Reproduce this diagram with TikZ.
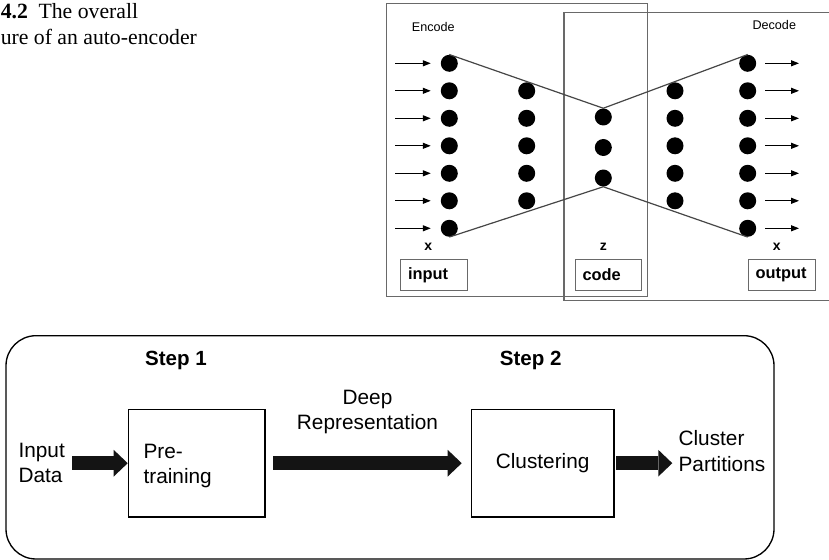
\documentclass[tikz,border=0pt]{standalone}
\usepackage{fontspec}
\setmainfont{Liberation Serif}
\newfontfamily\hsans{Liberation Sans}
\usetikzlibrary{arrows.meta,calc}
\definecolor{framegray}{RGB}{105,105,105}
\definecolor{linegray}{RGB}{70,70,70}
\definecolor{blkcol}{RGB}{20,20,20}
\begin{document}
\begin{tikzpicture}[x=0.75pt,y=-0.75pt,
  dot/.style={circle,fill=black,inner sep=0pt,minimum size=12.75pt},
  frame/.style={draw=framegray,line width=1pt},
  wire/.style={draw=linegray,line width=0.9pt},
  inarrow/.style={draw=black,line width=0.9pt,-{Triangle[length=6pt,width=4.5pt]}},
  lbox/.style={draw=framegray,line width=0.8pt,minimum height=23.5pt,text width=39pt,inner xsep=5.5pt,align=left,font=\hsans\bfseries\fontsize{12.3}{14}\selectfont},
  xl/.style={inner sep=0pt,font=\hsans\bfseries\fontsize{10.5}{12}\selectfont},
  hl/.style={inner sep=0pt,font=\hsans\fontsize{9.45}{11}\selectfont},
  captxt/.style={inner sep=0pt,font=\fontsize{16.3}{19}\selectfont},
  btxt/.style={inner sep=0pt,align=left,font=\hsans\fontsize{15.6}{19}\selectfont},
  bst/.style={inner sep=0pt,font=\hsans\bfseries\fontsize{15.4}{19}\selectfont},
  pbox/.style={draw=black,line width=0.9pt,inner sep=0pt,minimum height=80.8pt,font=\hsans\fontsize{15.6}{19}\selectfont},
  blk/.style={draw=blkcol,line width=10.5pt,-{Triangle[length=10.5pt,width=20pt,line width=0pt]}}
]
\useasboundingbox (0,0) rectangle (829,560);

% caption
\node[captxt,anchor=base east] (fnum) at (28.3,19) {\bfseries 4.2};
\node[captxt,anchor=base west] (cap1) at (38.3,19) {The overall};
\node[captxt,anchor=base west] (cap2) at (0.5,45) {ure of an auto-encoder};

% auto-encoder frames
\draw[frame] (386.7,3.3) rectangle (647.3,296.7);
\draw[frame] (840,12.7) -- (564,12.7) -- (564,300.7) -- (840,300.7);

\node[hl] (enc) at (433.3,26.7) {Encode};
\node[hl] (dec) at (774.3,25) {Decode};

% dots
\foreach \k in {0,...,6} {
  \node[dot] (a\k) at (449.3,{63.3+27.5*\k}) {};
  \node[dot] (e\k) at (747.7,{63.3+27.5*\k}) {};
}
\foreach \k in {1,...,5} {
  \node[dot] (b\k) at (526.7,{63.3+27.5*\k}) {};
  \node[dot] (d\k) at (675,{63.3+27.5*\k}) {};
}
\node[dot] (c1) at (603.3,117) {};
\node[dot] (c2) at (603.3,147.5) {};
\node[dot] (c3) at (603.3,178) {};

\draw[wire] (a0.north) -- (c1.north) -- (e0.north);
\draw[wire] (a6.south) -- (c3.south) -- (e6.south);

\foreach \k in {0,...,6} {
  \coordinate (la\k) at (395,{63.3+27.5*\k});
  \coordinate (ra\k) at (799,{63.3+27.5*\k});
  \draw[inarrow,shorten >=7.3pt] (la\k) -- (a\k);
  \draw[inarrow,shorten <=6.6pt] (e\k) -- (ra\k);
}

\node[xl] (xin) at (428.3,246.7) {x};
\node[xl] (zc) at (603.3,246.7) {z};
\node[xl] (xout) at (776.7,246.7) {x};

\node[lbox] (inp) at (434,275) {input};
\node[lbox] (cod) at (608.5,275) {code};
\node[lbox] (outp) at (781.7,275) {output};

% pipeline
\draw[line width=1pt,rounded corners=22.5pt] (6,335.7) rectangle (774,559);

\node[bst] (s1) at (176,360) {Step 1};
\node[bst] (s2) at (530.7,360) {Step 2};

\node[pbox,minimum width=102.5pt] (pre) at (196.65,463.2) {};
\node[btxt,anchor=west] (pretxt) at (143.3,466) {Pre-\\training};
\node[pbox,minimum width=107pt] (clus) at (542.65,463.2) {Clustering};

\node[btxt,align=center] (deep) at (367.5,411.7) {Deep\\Representation};
\node[btxt,anchor=west] (indata) at (18.3,463.2) {Input\\Data};
\node[btxt,anchor=west] (cp) at (678.3,451) {Cluster\\Partitions};

\draw[blk,shorten <=5.3pt] (indata.east) -- (pre.west);
\draw[blk,shorten <=5.8pt,shorten >=6.75pt] (pre) -- (clus);
\draw[blk,shorten <=1.3pt,shorten >=4.5pt] (clus) -- (cp.west |- clus.east);
\end{tikzpicture}
\end{document}
